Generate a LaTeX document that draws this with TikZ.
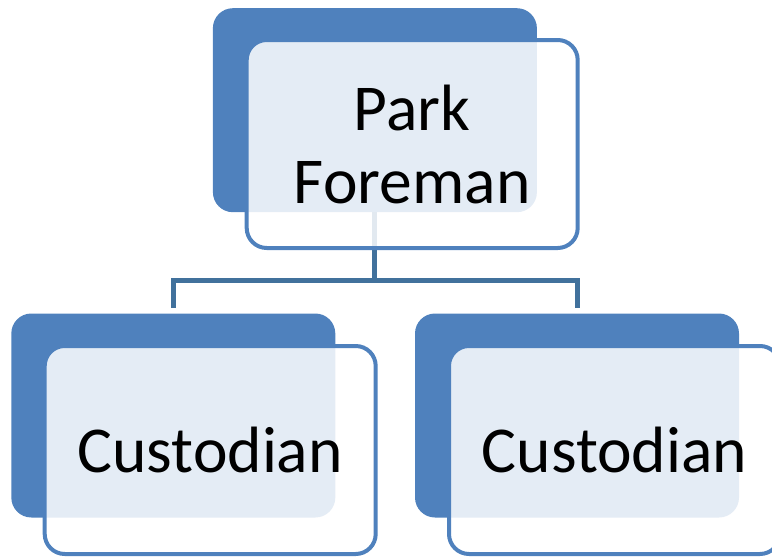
\documentclass[tikz,border=0pt]{standalone}
\usepackage{fontspec}
\setmainfont{Carlito}
\definecolor{boxblue}{HTML}{4F81BD}
\definecolor{linkblue}{HTML}{41719C}
\begin{document}
\begin{tikzpicture}[x=1pt,y=-1pt,
  backbox/.style={fill=boxblue, draw=none, rounded corners=20pt,
    minimum width=324pt, minimum height=204pt, inner sep=0pt},
  frontbox/.style={draw=boxblue, line width=4pt, fill=white, fill opacity=0.85,
    text opacity=1, rounded corners=20pt, minimum width=331pt, minimum height=208pt,
    inner sep=0pt, align=center, font=\fontsize{65.5}{73}\selectfont},
  conn/.style={draw=linkblue, line width=5pt}]
\useasboundingbox (0,0) rectangle (772,557);

% shaded back plates
\node[backbox] (pfb) at (374.9,110.2) {};
\node[backbox] (c1b) at (173.3,415.5) {};
\node[backbox] (c2b) at (577.0,415.5) {};

% hierarchy connectors
\draw[conn] (pfb.south) -- ++(0,68) -| ([yshift=5pt]c1b.north);
\draw[conn] (pfb.south) -- ++(0,68) -| ([yshift=5pt]c2b.north);

% front cards with labels
\node[frontbox] (pf) at (412.2,144) {Park\\Foreman};
\node[frontbox] (c1) at (210.2,450) {Custodian};
\node[frontbox] (c2) at (614.5,450) {Custodian};
\end{tikzpicture}
\end{document}
